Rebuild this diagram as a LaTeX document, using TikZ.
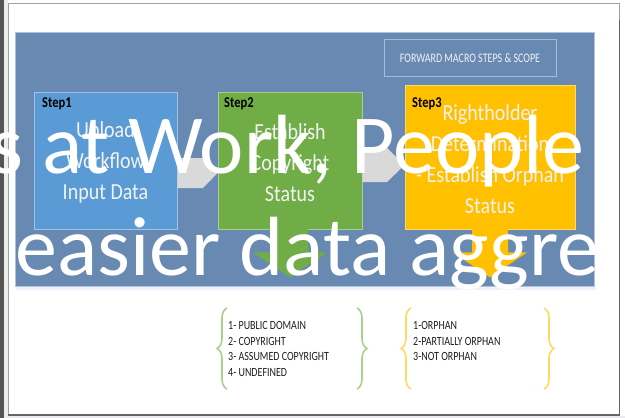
\documentclass[tikz,border=0pt]{standalone}
\usepackage{fontspec}
\setmainfont{Carlito}
\usetikzlibrary{calc,decorations.pathreplacing}
\definecolor{panelblue}{RGB}{103,137,178}
\definecolor{panelline}{RGB}{175,195,220}
\definecolor{sonefill}{RGB}{91,155,213}
\definecolor{stwofill}{RGB}{112,173,71}
\definecolor{sthreefill}{RGB}{255,192,0}
\definecolor{arrgrey}{RGB}{217,217,217}
\definecolor{bracegreen}{RGB}{169,209,142}
\definecolor{braceyellow}{RGB}{255,217,102}
\definecolor{framegrey}{RGB}{160,160,160}
\definecolor{darkstrip}{RGB}{85,85,85}
\definecolor{textwhite}{RGB}{242,242,242}
\definecolor{fwdline}{RGB}{165,188,218}
\definecolor{listblack}{RGB}{30,30,30}
\begin{document}
\begin{tikzpicture}[x=1pt,y=-1pt,
  stepbox/.style={rectangle, fill=#1, draw=#1!60!white, line width=0.8pt, inner sep=0pt},
  boxtext/.style={text=textwhite, align=center, font=\fontsize{20}{27}\selectfont, transform shape, yscale=1.15, inner sep=0pt},
  steplabel/.style={font=\bfseries\fontsize{12.5}{14}\selectfont, anchor=base west, inner sep=0pt, transform shape, yscale=1.2},
  listtext/.style={font=\fontsize{10}{12.6}\selectfont, align=left, anchor=north west, inner sep=0pt, transform shape, yscale=1.25, text=listblack},
  bigtext/.style={font=\fontsize{84}{100}\selectfont, text=white, inner sep=0pt, anchor=base west},
  bracestyle/.style={line width=1.6pt, decorate, decoration={brace, amplitude=10pt}}]
\useasboundingbox (0,0) rectangle (625,418);
% page frame
\fill[white] (0,0) rectangle (625,418);
\fill[black!7] (3.5,0) rectangle (7.5,418);
\fill[darkstrip] (0,0) rectangle (3.5,418);
\fill[blue!10!black!8] (7.5,415.5) rectangle (625,418);
\draw[framegrey, line width=1pt] (8,3.5) rectangle (619,415);
\draw[black!60, line width=1.6pt] (8,415) -- (619.3,415) -- (619.3,20);
% panel
\fill[black!12!blue!6] (16,286) rectangle (596,290);
\node[rectangle, fill=panelblue, draw=panelline, line width=0.6pt, minimum width=579pt, minimum height=254pt, inner sep=0pt] (panel) at (304.5,159) {};
\node[rectangle, draw=fwdline, line width=1pt, minimum width=172pt, minimum height=27.7pt, inner sep=0pt, text=textwhite, font=\fontsize{10}{12}\selectfont, transform shape, yscale=1.3] (fwd) at (470,58) {FORWARD MACRO STEPS \& SCOPE};
% step boxes
\node[stepbox=sonefill, minimum width=143pt, minimum height=137pt] (s1) at (105.5,160.5) {};
\node[stepbox=stwofill, minimum width=144pt, minimum height=137pt] (s2) at (290,160.5) {};
\node[stepbox=sthreefill, minimum width=170pt, minimum height=144pt] (s3) at (490,157) {};
% block arrows
\fill[arrgrey] (s1.east |- 0,158) -- (203,158) -- (s2.west |- 0,173) -- (203,188) -- (s1.east |- 0,188) -- cycle;
\fill[arrgrey] (s2.east |- 0,148) -- (387,148) -- (s3.west |- 0,165) -- (387,182) -- (s2.east |- 0,182) -- cycle;
\fill[stwofill] ($(s2.south)+(-18,-1)$) -- ($(s2.south)+(-18,23)$) -- ($(s2.south)+(-37,23)$) -- ($(s2.south)+(0,48)$) -- ($(s2.south)+(37,23)$) -- ($(s2.south)+(18,23)$) -- ($(s2.south)+(18,-1)$) -- cycle;
\fill[sthreefill] ($(s3.south)+(-18,-1)$) -- ($(s3.south)+(-18,23)$) -- ($(s3.south)+(-37,23)$) -- ($(s3.south)+(0,48)$) -- ($(s3.south)+(37,23)$) -- ($(s3.south)+(18,23)$) -- ($(s3.south)+(18,-1)$) -- cycle;
% step texts
\node[steplabel] (l1) at (42,107) {Step1};
\node[steplabel] (l2) at (224,107) {Step2};
\node[steplabel] (l3) at (412,107) {Step3};
\node[boxtext] (t1) at (105.5,162.5) {Upload\\Workflow\\Input Data};
\node[boxtext] (t2) at (290,162.5) {Establish\\Copyright\\Status};
\node[boxtext] (t3) at (490,159.5) {Rightholder\\Determination\\- Establish Orphan\\Status};
% lists and braces
\node[listtext] (list1) at (228,321) {1- PUBLIC DOMAIN\\2- COPYRIGHT\\3- ASSUMED COPYRIGHT\\4- UNDEFINED};
\node[listtext] (list2) at (413,321) {1-ORPHAN\\2-PARTIALLY ORPHAN\\3-NOT ORPHAN};
\draw[bracegreen, bracestyle] (227,389) -- (227,308);
\draw[bracegreen, bracestyle] (357,308) -- (357,389);
\draw[braceyellow, bracestyle] (411,389) -- (411,308);
\draw[braceyellow, bracestyle] (544,308) -- (544,389);
% overlaid caption text
\node[bigtext] (ov1) at (-10,173) {s at Work, People};
\node[bigtext] (ov2) at (15,275) {easier data aggre};
\end{tikzpicture}
\end{document}
